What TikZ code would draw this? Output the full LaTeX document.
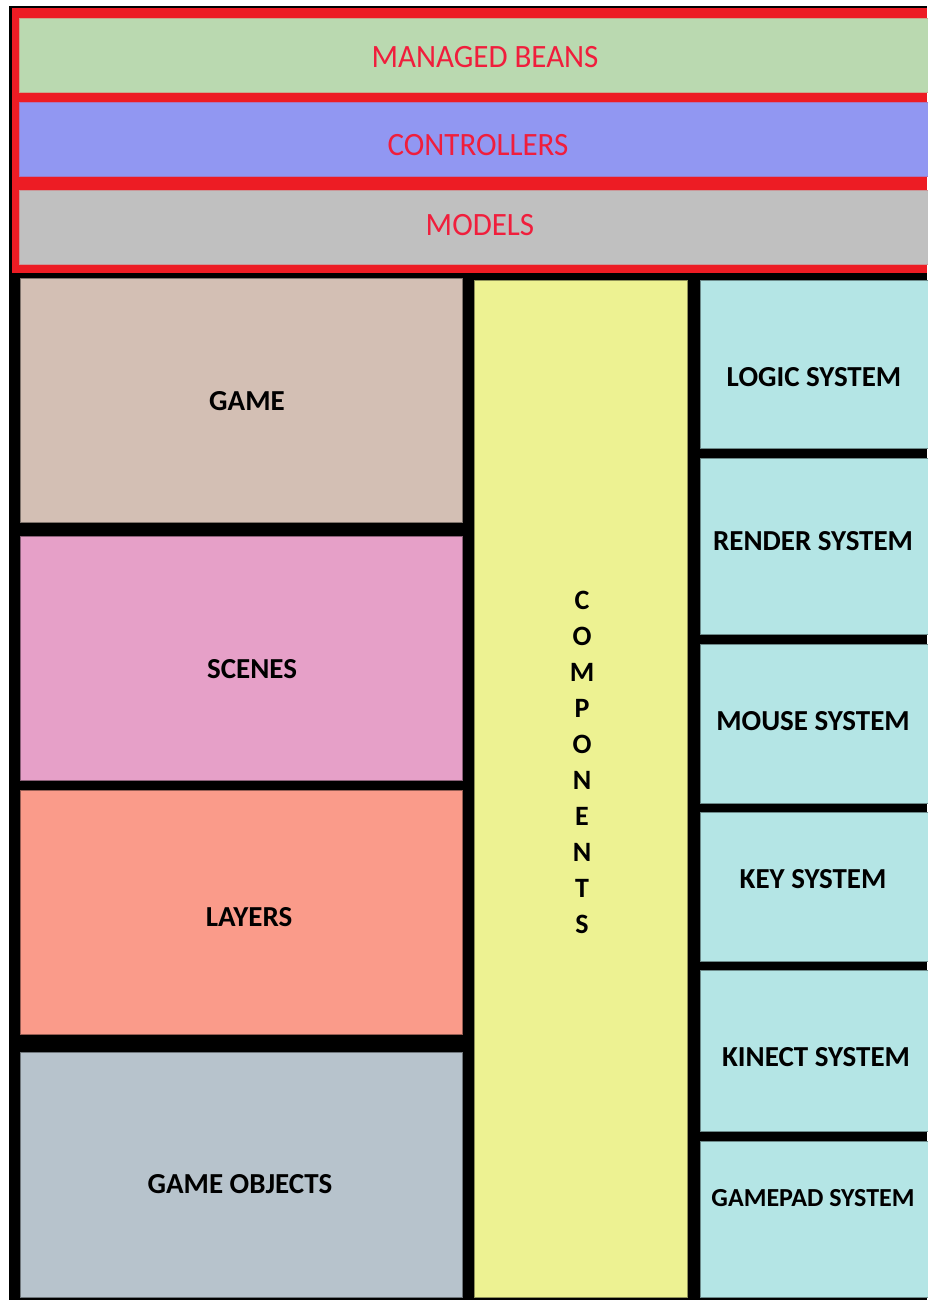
\documentclass[tikz,border=0pt]{standalone}
\usepackage{fontspec}
\setmainfont{Carlito}
\definecolor{redfr}{RGB}{237,28,36}
\definecolor{redtxt}{RGB}{240,30,60}
\definecolor{cgreen}{RGB}{186,217,176}
\definecolor{cblue}{RGB}{145,151,242}
\definecolor{cgray}{RGB}{192,192,192}
\definecolor{cgame}{RGB}{211,191,180}
\definecolor{cscene}{RGB}{230,160,200}
\definecolor{clayer}{RGB}{250,155,138}
\definecolor{cobj}{RGB}{183,195,204}
\definecolor{ccomp}{RGB}{237,242,146}
\definecolor{csys}{RGB}{180,229,229}
\begin{document}
\begin{tikzpicture}[x=1pt,y=-1pt,
  band/.style={fill=#1, draw=#1!75!redfr, line width=0.8pt},
  blk/.style={fill=#1, draw=#1!60!black, line width=0.8pt},
  redlbl/.style={text=redtxt, font=\fontsize{31}{32}\selectfont, yscale=1.05, inner sep=0pt},
  blklbl/.style={text=black, font=\fontsize{29}{30}\selectfont\bfseries, inner sep=0pt},
  complbl/.style={text=black, font=\fontsize{28}{36}\selectfont\bfseries, align=center, inner sep=0pt}]
\useasboundingbox (0,0) rectangle (927,1300);
\fill[white] (0,0) rectangle (927,1300);
% frames
\fill[black] (9,6) rectangle (927,1300);
\fill[redfr] (12,8) rectangle (927,273);
% top bands
\draw[band=cgreen] (19,18) rectangle (928,92);
\draw[band=cblue] (19,102) rectangle (928,176);
\draw[band=cgray] (19,190) rectangle (928,264);
\node[redlbl] (mb) at (485,57) {MANAGED BEANS};
\node[redlbl] (ctl) at (478,145) {CONTROLLERS};
\node[redlbl] (mdl) at (480,225) {MODELS};
% left column
\draw[blk=cgame] (20,278) rectangle (462,522);
\draw[blk=cscene] (20,536) rectangle (462,780);
\draw[blk=clayer] (20,790) rectangle (462,1034);
\draw[blk=cobj] (20,1052) rectangle (462,1297);
\node[blklbl] (game) at (247,401) {GAME};
\node[blklbl] (scenes) at (252,669) {SCENES};
\node[blklbl] (layers) at (249,917) {LAYERS};
\node[blklbl] (gobj) at (240,1184) {GAME OBJECTS};
% components
\draw[blk=ccomp] (474,280) rectangle (687,1297);
\node[complbl] (comp) at (582,762) {C\\O\\M\\P\\O\\N\\E\\N\\T\\S};
% systems
\draw[blk=csys] (700,280) rectangle (928,448);
\draw[blk=csys] (700,458) rectangle (928,634);
\draw[blk=csys] (700,644) rectangle (928,803);
\draw[blk=csys] (700,812) rectangle (928,961);
\draw[blk=csys] (700,970) rectangle (928,1131);
\draw[blk=csys] (700,1141) rectangle (928,1297);
\node[blklbl] (logic) at (814,377) {LOGIC SYSTEM};
\node[blklbl] (render) at (813,541) {RENDER SYSTEM};
\node[blklbl] (mouse) at (813,721) {MOUSE SYSTEM};
\node[blklbl] (key) at (813,879) {KEY SYSTEM};
\node[blklbl] (kinect) at (816,1057) {KINECT SYSTEM};
\node[blklbl,font=\fontsize{26}{28}\selectfont\bfseries] (gamepad) at (813,1198) {GAMEPAD SYSTEM};
\end{tikzpicture}
\end{document}
